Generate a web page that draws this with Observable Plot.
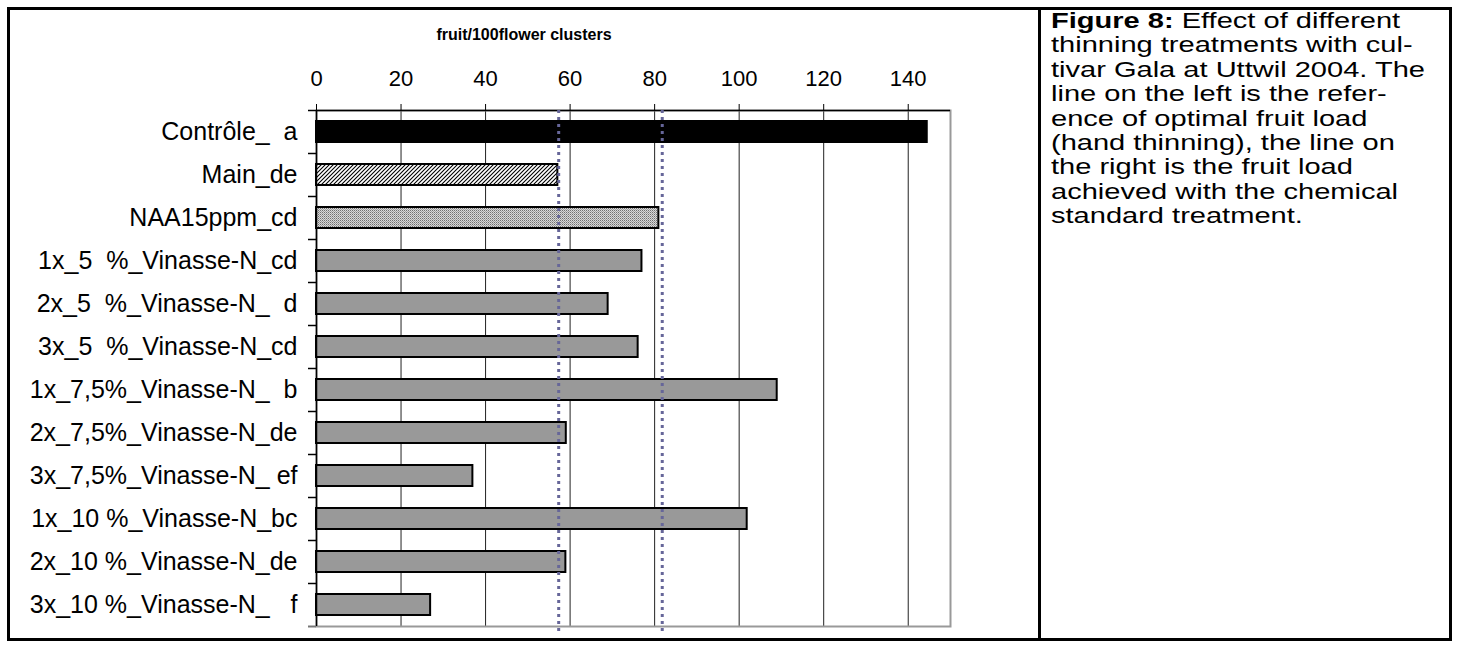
<!DOCTYPE html>
<html><head><meta charset="utf-8">
<script src="https://cdn.jsdelivr.net/npm/d3@7"></script>
<script src="https://cdn.jsdelivr.net/npm/@observablehq/plot@0.6"></script>
<style>
html,body{margin:0;padding:0;background:#fff;}
body{width:1459px;height:648px;position:relative;overflow:hidden;font-family:Arial,"Liberation Sans",sans-serif;color:#000;}
#frame{position:absolute;left:7px;top:7px;width:1445px;height:634px;border:3px solid #000;box-sizing:border-box;}
#divider{position:absolute;left:1038px;top:7px;width:3px;height:634px;background:#000;}
#title{position:absolute;left:10px;width:1028px;top:23px;text-align:center;font-weight:bold;font-size:16px;line-height:24px;}
#chart{position:absolute;left:10px;top:48px;}
#caption{position:absolute;left:1051px;top:9px;font-size:22px;line-height:24.4px;white-space:nowrap;transform:scaleX(1.32);transform-origin:0 0;}
svg text{white-space:pre;}
</style></head><body>
<div id="frame"></div>
<div id="divider"></div>
<div id="title">fruit/100flower clusters</div>
<div id="chart"></div>
<div id="caption"><b>Figure 8:</b> Effect of different<br>thinning treatments with cul-<br>tivar Gala at Uttwil 2004. The<br>line on the left is the refer-<br>ence of optimal fruit load<br>(hand thinning), the line on<br>the right is the fruit load<br>achieved with the chemical<br>standard treatment.</div>
<script>
const categories = [
  "Contrôle_  a",
  "Main_de",
  "NAA15ppm_cd",
  "1x_5  %_Vinasse-N_cd",
  "2x_5  %_Vinasse-N_  d",
  "3x_5  %_Vinasse-N_cd",
  "1x_7,5%_Vinasse-N_  b",
  "2x_7,5%_Vinasse-N_de",
  "3x_7,5%_Vinasse-N_ ef",
  "1x_10 %_Vinasse-N_bc",
  "2x_10 %_Vinasse-N_de",
  "3x_10 %_Vinasse-N_   f"
];
const values = [144.5, 57.1, 81, 77, 69, 76.1, 109, 59.1, 37, 101.9, 59, 27];
const treatmentType = ["control", "hand", "chemical", "vinasse", "vinasse", "vinasse", "vinasse", "vinasse", "vinasse", "vinasse", "vinasse", "vinasse"];
const refLines = [57.3, 81.8];
const xTicks = [0, 20, 40, 60, 80, 100, 120, 140];
const xDomain = [0, 150];

const W = 1028, H = 590, mL = 306, mR = 88, mT = 62, mB = 12;
const step = (H - mT - mB) / categories.length;
const plotW = W - mL - mR;
const data = categories.map((c, i) => ({name: c, value: values[i], type: treatmentType[i]}));
const fills = {control: "#000000", hand: "url(#hatch)", chemical: "url(#dots)", vinasse: "#999999"};

const plot = Plot.plot({
  width: W, height: H,
  marginLeft: mL, marginRight: mR, marginTop: mT, marginBottom: mB,
  style: {fontFamily: "Arial, 'Liberation Sans', sans-serif", color: "#000", background: "transparent", overflow: "visible"},
  x: {domain: xDomain},
  y: {domain: categories, padding: 0},
  marks: [
    Plot.ruleX(xTicks.filter(v => v > 0), {stroke: "#222", strokeWidth: 1}),
    Plot.frame({stroke: "#999", strokeWidth: 2}),
    ...Object.keys(fills).map(t => Plot.barX(data.filter(d => d.type === t), {
      y: "name", x: "value", fill: fills[t], stroke: "#000", strokeWidth: 2, insetTop: 11, insetBottom: 11
    })),
    Plot.ruleX([0], {stroke: "#000", strokeWidth: 1.5}),
    Plot.ruleY(categories.slice(1), {y: d => d, dy: -step / 2, insetLeft: -8, insetRight: plotW, stroke: "#000", strokeWidth: 1.5}),
    Plot.ruleY([categories[categories.length - 1]], {y: d => d, dy: step / 2, insetLeft: -8, insetRight: plotW, stroke: "#777", strokeWidth: 2}),
    Plot.ruleY([categories[0]], {y: d => d, dy: -step / 2, insetLeft: -8, stroke: "#000", strokeWidth: 1.5}),
    Plot.axisX({anchor: "top", ticks: xTicks, tickSize: 7, tickPadding: 18, fontSize: 22, label: null, stroke: "#000"}),
    Plot.axisY({tickSize: 0, tickPadding: 19, fontSize: 25, label: null}),
    Plot.ruleX(refLines, {stroke: "#666699", strokeWidth: 3, strokeDasharray: "3,4", insetBottom: -6})
  ]
});

// patterns for the hatched and dotted bars
const NS = "http://www.w3.org/2000/svg";
const defs = document.createElementNS(NS, "defs");
function el(tag, attrs, parent) {
  const e = document.createElementNS(NS, tag);
  for (const k in attrs) e.setAttribute(k, attrs[k]);
  parent.appendChild(e);
  return e;
}
const hatch = el("pattern", {id: "hatch", width: 4, height: 4, patternUnits: "userSpaceOnUse"}, defs);
el("rect", {width: 4, height: 4, fill: "#ffffff"}, hatch);
el("path", {d: "M-1,1 L1,-1 M0,4 L4,0 M3,5 L5,3", stroke: "#000", "stroke-width": 1.1}, hatch);
const dots = el("pattern", {id: "dots", width: 2, height: 2, patternUnits: "userSpaceOnUse"}, defs);
el("rect", {width: 2, height: 2, fill: "#d8d8d8"}, dots);
el("rect", {width: 1, height: 1, fill: "#707070"}, dots);
el("rect", {x: 1, y: 1, width: 1, height: 1, fill: "#a0a0a0"}, dots);
plot.insertBefore(defs, plot.firstChild);

document.getElementById("chart").appendChild(plot);
</script>
</body></html>
